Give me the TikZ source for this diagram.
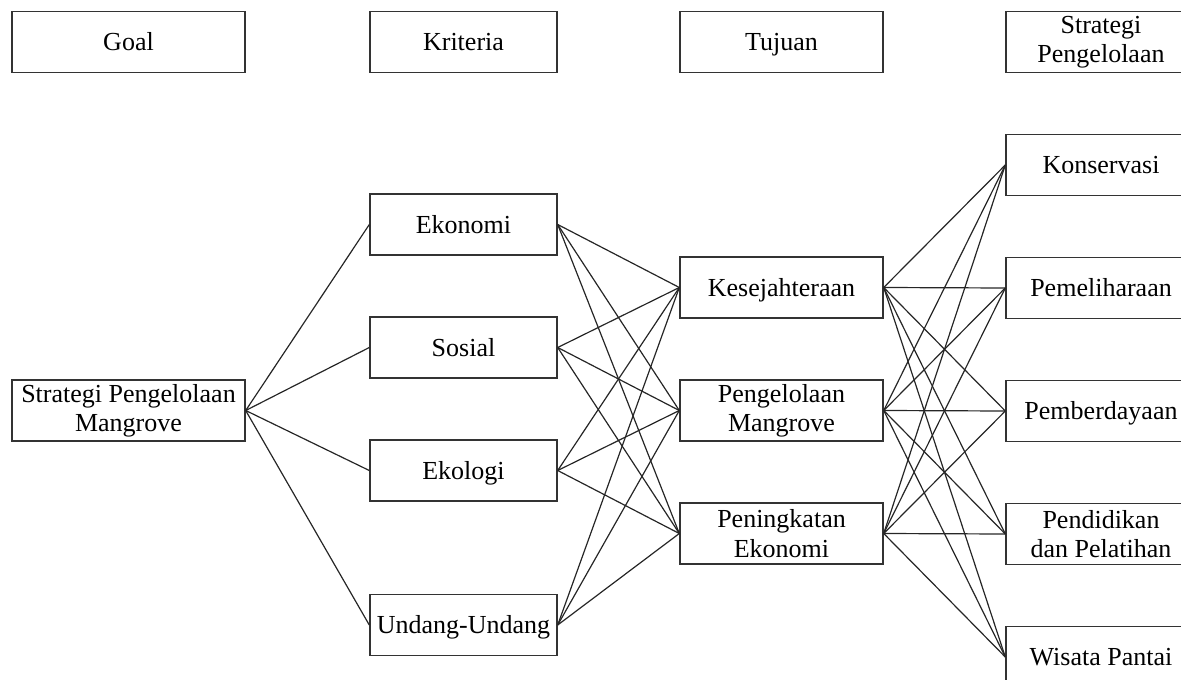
\documentclass[tikz,border=0pt]{standalone}
\usepackage{fontspec}
\setmainfont{Liberation Serif}
\usetikzlibrary{positioning}
\tikzset{
x=0.5pt,
y=-0.5pt,
thin,
node distance=61.5pt,
box/.style={draw=black!80, line width=0.7pt, align=center, minimum height=30.5pt,
  inner sep=1pt, font=\fontsize{13}{14.6}\selectfont},
onebox/.style={box, text height=11pt, text depth=2.4pt},
link/.style={draw=black!85, line width=0.6pt},
}
\begin{document}
\begin{tikzpicture}
    \useasboundingbox (0,0) rectangle (1181,679);
    \clip (0,0) rectangle (1181,679);

    % headers
    \node[onebox,minimum width=116.5pt] (hgoal) at (128.5,42) {Goal};
    \node[onebox,minimum width=93.5pt] (hkrit) at (463.5,42) {Kriteria};
    \node[onebox,minimum width=101.5pt] (htuj) at (781.5,42) {Tujuan};
    \node[box,minimum width=95pt] (hstr) at (1101,42) {Strategi\\Pengelolaan};

    % goal
    \node[box,minimum width=116.5pt] (goal) at (128.5,410.5) {Strategi Pengelolaan\\Mangrove};

    % kriteria
    \node[onebox,minimum width=93.5pt] (eko) at (463.5,224.5) {Ekonomi};
    \node[onebox,minimum width=93.5pt,below of=eko] (sos) {Sosial};
    \node[onebox,minimum width=93.5pt,below of=sos] (ekl) {Ekologi};
    \node[onebox,minimum width=93.5pt] (uu) at (463.5,625) {Undang-Undang};

    % tujuan
    \node[onebox,minimum width=101.5pt] (kes) at (781.5,287.5) {Kesejahteraan};
    \node[box,minimum width=101.5pt,below of=kes] (pman) {Pengelolaan\\Mangrove};
    \node[box,minimum width=101.5pt,below of=pman] (pek) {Peningkatan\\Ekonomi};

    % strategi
    \node[onebox,minimum width=95pt] (kon) at (1101,165) {Konservasi};
    \node[onebox,minimum width=95pt,below of=kon] (pml) {Pemeliharaan};
    \node[onebox,minimum width=95pt,below of=pml] (pbd) {Pemberdayaan};
    \node[box,minimum width=95pt,below of=pbd] (pdp) {Pendidikan\\dan Pelatihan};
    \node[onebox,minimum width=95pt,below of=pdp] (wis) {Wisata Pantai};

    \foreach \k in {eko,sos,ekl,uu}
        \draw[link] (goal.east) -- (\k.west);
    \foreach \k in {eko,sos,ekl,uu}
        \foreach \t in {kes,pman,pek}
            \draw[link] (\k.east) -- (\t.west);
    \foreach \t in {kes,pman,pek}
        \foreach \s in {kon,pml,pbd,pdp,wis}
            \draw[link] (\t.east) -- (\s.west);

\end{tikzpicture}
\end{document}
